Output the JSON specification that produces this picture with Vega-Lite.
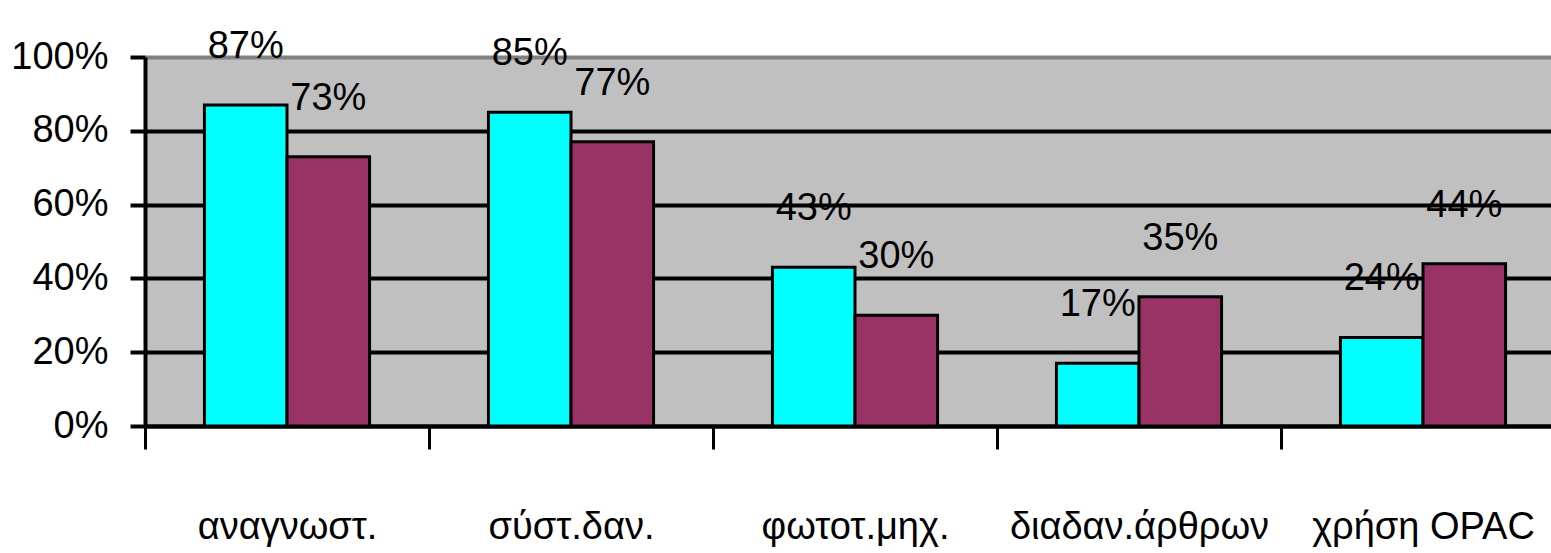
{
  "$schema": "https://vega.github.io/schema/vega-lite/v6.json",
  "width": 1406,
  "height": 369,
  "autosize": {"type": "none"},
  "padding": {"left": 145, "top": 57, "right": 0, "bottom": 127},
  "background": "white",
  "config": {
    "view": {"fill": "#C0C0C0", "stroke": null},
    "font": "'Liberation Sans', Arial, sans-serif",
    "axis": {"grid": false, "labelColor": "black", "labelFont": "'Liberation Sans', Arial, sans-serif", "labelLimit": 0}
  },
  "data": {
    "values": [
      {"category": "αναγνωστ.", "series": "Α", "value": 0.87},
      {"category": "αναγνωστ.", "series": "Β", "value": 0.73},
      {"category": "σύστ.δαν.", "series": "Α", "value": 0.85},
      {"category": "σύστ.δαν.", "series": "Β", "value": 0.77},
      {"category": "φωτοτ.μηχ.", "series": "Α", "value": 0.43},
      {"category": "φωτοτ.μηχ.", "series": "Β", "value": 0.30},
      {"category": "διαδαν.άρθρων", "series": "Α", "value": 0.17},
      {"category": "διαδαν.άρθρων", "series": "Β", "value": 0.35},
      {"category": "χρήση OPAC", "series": "Α", "value": 0.24},
      {"category": "χρήση OPAC", "series": "Β", "value": 0.44}
    ]
  },
  "encoding": {
    "x": {
      "field": "category", "type": "nominal", "sort": null,
      "scale": {"range": [0, 1420], "paddingInner": 0, "paddingOuter": 0},
      "axis": {
        "title": null, "orient": "bottom", "labelAngle": 0, "tickBand": "extent",
        "tickSize": 23, "tickWidth": 3, "tickColor": "black",
        "domainWidth": 4, "domainColor": "black",
        "labelFontSize": 38, "labelBaseline": "alphabetic", "labelPadding": 89
      }
    },
    "xOffset": {
      "field": "series", "type": "nominal", "sort": null,
      "scale": {"paddingInner": 0, "paddingOuter": 0.72}
    },
    "y": {
      "field": "value", "type": "quantitative",
      "scale": {"domain": [0, 1], "nice": false},
      "axis": {
        "title": null, "values": [0, 0.2, 0.4, 0.6, 0.8, 1], "format": ".0%",
        "grid": true, "gridWidth": 4,
        "gridColor": {"condition": {"test": "datum.value === 1", "value": "#808080"}, "value": "black"},
        "tickSize": 15, "tickWidth": 4, "tickColor": "black",
        "domainWidth": 4, "domainColor": "black",
        "labelFontSize": 38, "labelPadding": 22
      }
    }
  },
  "layer": [
    {
      "mark": {"type": "bar", "stroke": "black", "strokeWidth": 3},
      "encoding": {
        "color": {"field": "series", "type": "nominal", "scale": {"range": ["#00FFFF", "#993366"]}, "legend": null}
      }
    },
    {
      "mark": {"type": "text", "dy": -47, "baseline": "alphabetic", "fontSize": 38, "color": "black"},
      "encoding": {
        "text": {"field": "value", "type": "quantitative", "format": ".0%"}
      }
    }
  ]
}
